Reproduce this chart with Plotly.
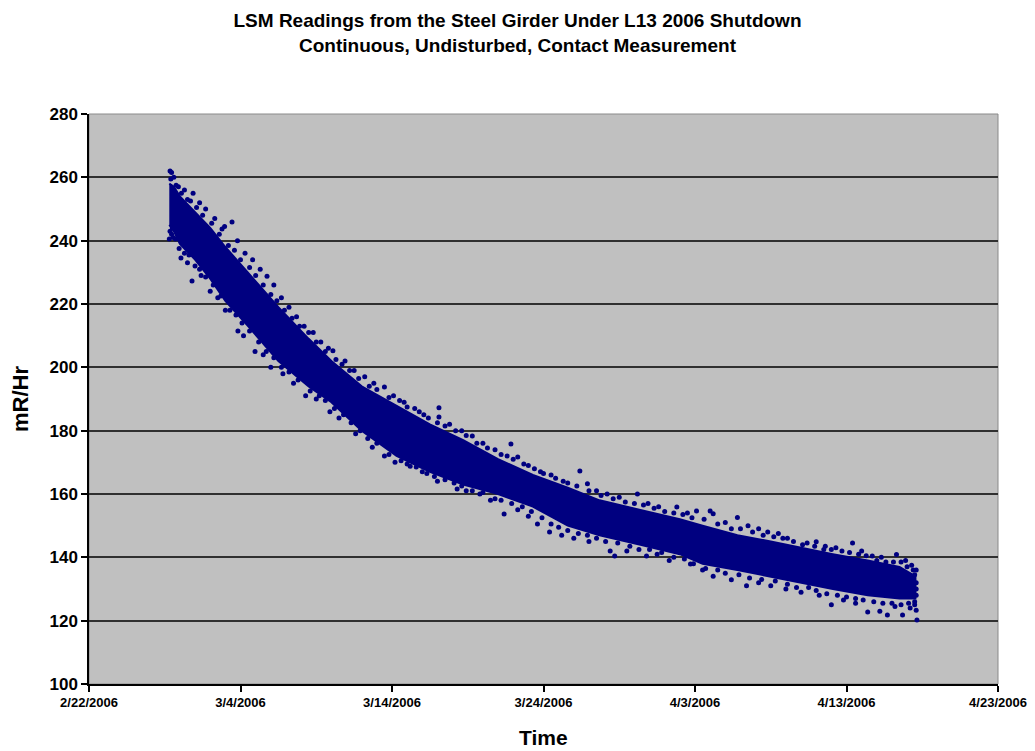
import pandas as pd
import plotly.graph_objects as go

# ---- data ----
START = "2006-02-22"
# dense core of the reading cloud: day offset from 2/22/2006, upper and lower core values (mR/Hr)
core_day = [5.30, 5.6, 6.0, 7.0, 8.0, 9.0, 10.5, 12.5, 14.5, 16.0, 18.0, 20.3, 22.5, 24.7, 27.0,
            29.3, 31.6, 33.7, 36.4, 39.0, 40.5, 42.8, 45.0, 47.0, 49.1, 51.4, 53.5, 54.55]
core_hi = [258, 257, 254, 249, 244, 238, 230, 219, 209, 202, 194, 188, 182, 177, 171,
           166, 162, 158, 155, 152, 150, 147, 145, 143, 141, 139, 137, 134]
core_lo = [245, 243, 239, 234, 228, 221, 213, 202, 194, 189, 180, 172, 167, 163, 160,
           156, 150, 147, 144, 141, 138, 136, 134, 132, 130, 128, 127, 127]

# outermost readings along the upper edge of the cloud
hi_day = [5.35, 5.45, 5.6, 5.9, 6.3, 6.87, 7.3, 7.7, 8.3, 8.78, 8.95, 9.44, 9.8, 10.3, 10.8, 11.3,
          11.75, 12.2, 12.7, 13.2, 13.7, 14.2, 14.8, 15.3, 15.8, 16.1, 16.9, 17.5, 18.2, 18.8, 19.5,
          20.1, 20.8, 21.5, 22.1, 23.1, 23.1, 23.8, 24.6, 25.3, 26.0, 26.8, 27.85, 28.3, 29.0, 29.8,
          30.5, 31.3, 32.4, 32.9, 33.5, 34.2, 35.0, 36.2, 36.9, 37.6, 38.8, 39.5, 40.1, 41.0, 41.2,
          42.0, 42.8, 43.5, 44.2, 44.8, 45.5, 46.1, 47.1, 48.0, 48.6, 49.3, 50.4, 51.0, 51.7, 52.3,
          53.3, 53.9, 54.3, 54.6]
hi_val = [262, 261.5, 260, 257, 256, 255, 252, 250, 247, 243.7, 244.5, 245.9, 240, 236, 234, 231,
          228.8, 226, 222, 219, 216, 213, 211, 208, 206, 205.2, 202, 199, 197, 195, 193.8,
          191, 189, 187, 185, 187.2, 184.3, 182, 180, 178.3, 176, 174, 175.8, 171.7, 169, 167,
          166, 164, 167.3, 163.2, 161, 160, 159, 160, 157, 156, 155.9, 154, 154.6, 154.6, 153.8,
          151, 152.6, 150, 149, 148, 147.5, 146, 144, 144.9, 143.5, 143, 144.5, 142, 140.4, 140,
          140.9, 139, 137.5, 136]

# readings just inside the upper edge
hi2_day = [5.4, 5.75, 6.1, 6.5, 6.7, 7.1, 7.5, 8.1, 8.6, 9.2, 9.6, 10.0, 10.6, 11.0, 11.5, 12.0,
           12.4, 12.9, 13.4, 13.9, 14.5, 15.0, 15.6, 16.3, 16.7, 17.2, 17.8, 18.5, 19.0, 19.8, 20.5,
           21.0, 21.8, 22.4, 23.0, 23.5, 24.2, 24.9, 25.6, 26.3, 27.2, 27.6, 28.0, 28.7, 29.4, 30.0,
           30.8, 31.6, 32.2, 33.0, 33.8, 34.6, 35.4, 36.0, 36.6, 37.3, 38.0, 38.6, 39.2, 39.8, 40.6,
           41.5, 42.4, 43.0, 43.8, 44.5, 45.2, 45.8, 46.5, 47.4, 47.9, 48.5, 49.0, 49.7, 50.2, 50.8,
           51.3, 52.0, 52.6, 53.1, 53.6, 54.0, 54.4, 54.5]
hi2_val = [259.5, 257.5, 255, 253, 252.5, 250.5, 248, 245.5, 242, 238.5, 237, 234, 231.5, 229, 226,
           223, 221, 218, 215.5, 213, 211, 208, 205, 202.5, 201, 199, 196.5, 194, 193, 190.5, 189.5,
           187.5, 186, 184, 182.5, 181.5, 180, 178.5, 176, 174.5, 172.5, 172, 171, 169.5, 168, 166.5,
           165, 163.5, 162.5, 161, 159.5, 158.5, 157.5, 157, 156.5, 155.5, 154.5, 154, 153.5, 152.5,
           152, 150.5, 149, 149, 148, 147, 146.5, 146, 145, 144.5, 143.5, 142.5, 142.5, 142, 141.5,
           141, 140.5, 139, 138.5, 138.5, 138.5, 137, 136, 134.5]

# outermost readings along the lower edge of the cloud
lo_day = [5.3, 5.55, 5.5, 6.07, 6.5, 6.8, 7.4, 8.0, 8.5, 9.0, 9.83, 10.2, 10.96, 11.5, 12.0, 12.8,
          13.5, 14.3, 15.0, 15.9, 16.5, 17.6, 18.7, 19.5, 20.2, 21.2, 22.0, 23.0, 24.3, 24.9, 25.8,
          26.5, 27.4, 28.3, 29.0, 29.6, 30.4, 31.2, 32.0, 33.0, 34.4, 34.7, 35.5, 36.8, 37.5, 38.3,
          39.7, 40.5, 41.2, 42.4, 43.4, 44.2, 45.0, 46.0, 47.0, 48.2, 49.0, 49.8, 50.6, 51.4, 52.2,
          52.7, 53.2, 53.7, 54.2, 54.65, 54.6, 54.5]
lo_val = [240.5, 241, 244, 234.5, 233, 227.3, 229, 224, 222, 218, 211.5, 210, 205, 204, 200, 198,
          195, 191, 190, 186, 184, 179, 174.8, 172, 170, 168.8, 167, 164, 161.6, 161, 160,
          158, 153.7, 155, 153, 150.5, 148, 147, 146, 145, 142, 140.4, 142, 140.4, 141, 139,
          137.9, 136, 134, 132.9, 131, 132, 131, 130, 129, 128, 125, 126.5, 125.5, 122.7, 123,
          121.8, 124.5, 121.8, 124, 120.2, 123.3, 126]

# readings just inside the lower edge
lo2_day = [5.35, 5.45, 5.7, 5.95, 6.3, 6.6, 7.0, 7.3, 7.7, 8.2, 8.7, 9.3, 9.7, 10.1, 10.6, 11.2,
           11.7, 12.2, 12.7, 13.2, 13.8, 14.6, 15.2, 15.6, 16.2, 16.8, 17.3, 17.9, 18.4, 19.0, 19.8,
           20.6, 21.0, 21.6, 22.3, 22.8, 23.5, 24.1, 24.6, 25.3, 26.0, 26.8, 27.2, 27.9, 28.6, 29.2,
           29.9, 30.5, 31.0, 31.6, 32.3, 32.9, 33.5, 34.1, 34.9, 35.7, 36.3, 37.0, 37.8, 38.6, 39.3,
           39.9, 40.7, 41.5, 42.0, 42.9, 43.6, 44.4, 45.3, 46.1, 46.7, 47.5, 48.0, 48.7, 49.4, 50.0,
           50.6, 51.1, 51.8, 52.4, 53.0, 53.6, 54.1, 54.5, 54.6, 54.6, 54.6]
lo2_val = [243, 242, 240.5, 237.5, 236, 235.5, 232, 231, 228.5, 226, 222.5, 218, 216.5, 214, 211.5,
           208, 205, 203, 200, 198.5, 196, 192.5, 191, 189.5, 187, 185, 182.5, 180, 177.5, 176,
           172.5, 170.5, 169.5, 168.5, 166.5, 165.5, 164.5, 163.5, 162.5, 161, 160.5, 158.5, 158,
           157, 156, 154.5, 152.5, 150.5, 149.5, 148.5, 147.5, 147, 146, 145, 144.5, 143.5, 142.5,
           142.5, 141.5, 140, 139.5, 138, 136.5, 136, 135, 134.5, 133.5, 133, 132.5, 131.5, 130.5,
           130.5, 129.5, 128.5, 128, 127.5, 127, 126.5, 126, 125.5, 125.5, 125, 125.5, 125, 128,
           130, 132]

y_ticks = [100, 120, 140, 160, 180, 200, 220, 240, 260, 280]
x_tick_dates = ["2006-02-22", "2006-03-04", "2006-03-14", "2006-03-24", "2006-04-03",
                "2006-04-13", "2006-04-23"]

# ---- build ----
t0 = pd.Timestamp(START)


def to_dt(days):
    return [t0 + pd.Timedelta(days=d) for d in days]


NAVY = "#000080"
FONT = "Liberation Sans Narrow, Arial Narrow, Liberation Sans, Arial, sans-serif"

fig = go.Figure()
fig.add_trace(go.Scatter(
    x=to_dt(core_day + core_day[::-1]), y=core_hi + core_lo[::-1],
    mode="lines", fill="toself", fillcolor=NAVY, line=dict(color=NAVY, width=2),
    hoverinfo="skip", showlegend=False))
fig.add_trace(go.Scatter(
    x=to_dt(hi_day + hi2_day + lo_day + lo2_day), y=hi_val + hi2_val + lo_val + lo2_val,
    mode="markers", marker=dict(color=NAVY, size=5, symbol="circle", line=dict(width=0)),
    showlegend=False))
# invisible trace carrying the gridline axis
fig.add_trace(go.Scatter(x=to_dt([core_day[0]]), y=[core_hi[0]], yaxis="y2",
                         mode="markers", marker=dict(opacity=0), showlegend=False,
                         hoverinfo="skip"))

fig.update_layout(
    width=1019, height=743,
    margin=dict(l=81, r=29, t=106, b=67, autoexpand=False),
    paper_bgcolor="white", plot_bgcolor="#c0c0c0",
    font=dict(family=FONT, color="black"),
    title=dict(
        text="<b>LSM Readings from the Steel Girder Under L13 2006 Shutdown</b><br>"
             "<b>Continuous, Undisturbed, Contact Measurement</b>",
        x=0.5, xref="container", xanchor="center", y=0.9743, yref="container",
        yanchor="middle", font=dict(size=19, family=FONT)),
    xaxis=dict(
        type="date", range=[x_tick_dates[0], x_tick_dates[-1]],
        tickvals=x_tick_dates, tickformat="%-m/%-d/%Y",
        tickfont=dict(size=13, family=FONT, weight="bold"),
        ticks="outside", ticklen=6, tickcolor="black", tickwidth=1.5,
        showline=True, linecolor="black", linewidth=1.5, showgrid=False, zeroline=False,
        automargin=False),
    yaxis=dict(
        range=[y_ticks[0], y_ticks[-1]], tickvals=y_ticks,
        tickfont=dict(size=17, family=FONT, weight="bold"),
        ticks="outside", ticklen=6, tickcolor="black", tickwidth=1.5,
        showline=True, linecolor="black", linewidth=1.5, showgrid=False, zeroline=False,
        automargin=False,
        title=dict(text="<b>mR/Hr</b>", font=dict(size=22, family=FONT), standoff=22)),
    yaxis2=dict(
        overlaying="y", range=[y_ticks[0], y_ticks[-1]], tickvals=y_ticks[1:-1],
        showticklabels=False, showgrid=True, gridcolor="#303030", gridwidth=2,
        zeroline=False, showline=False, layer="below traces"),
    annotations=[dict(text="<b>Time</b>", xref="paper", yref="paper", x=0.5, y=0,
                      xanchor="center", yanchor="middle", yshift=-53, showarrow=False,
                      font=dict(size=21, family=FONT, color="black"))],
    shapes=[dict(type="rect", xref="paper", yref="paper", x0=0, x1=1, y0=0, y1=1,
                 line=dict(color="#8a8a8a", width=1), layer="below")],
)

fig.write_html("out.html")
